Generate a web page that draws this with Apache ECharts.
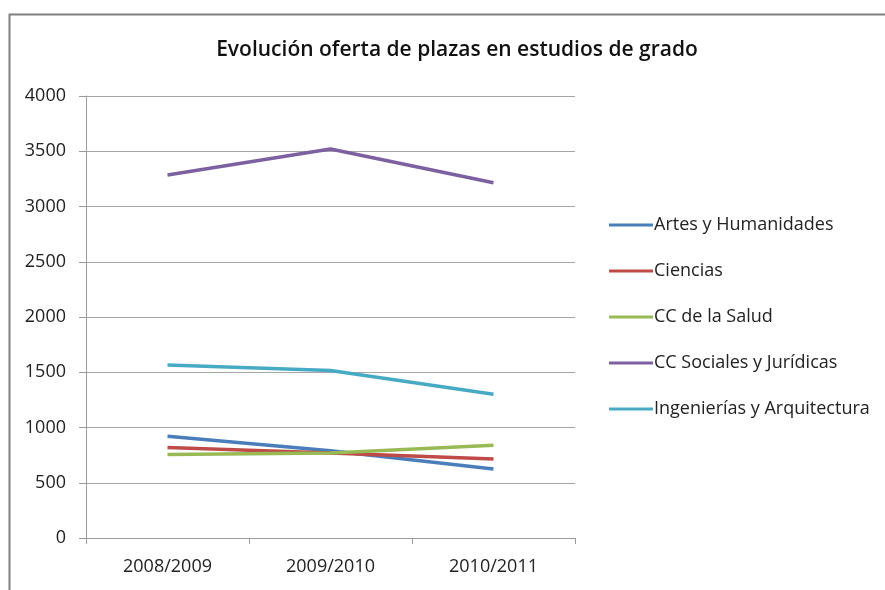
<!DOCTYPE html>
<html><head><meta charset="utf-8">
<script src="https://cdn.jsdelivr.net/npm/echarts@6/dist/echarts.min.js"></script>
<style>html,body{margin:0;padding:0;background:#fff}#c{width:885px;height:590px}</style>
</head><body><div id="c"></div>
<script>
const categories = ['2008/2009', '2009/2010', '2010/2011'];
const seriesNames = ['Artes y Humanidades', 'Ciencias', 'CC de la Salud', 'CC Sociales y Jurídicas', 'Ingenierías y Arquitectura'];
const artes = [920, 790, 625];
const ciencias = [820, 770, 715];
const salud = [755, 770, 840];
const sociales = [3285, 3520, 3215];
const ingenierias = [1565, 1515, 1300];
const colors = ['#4a7ebb', '#be4b48', '#98b954', '#7d60a0', '#46aac5'];
const values = [artes, ciencias, salud, sociales, ingenierias];

const font = "'Open Sans', 'Liberation Sans', sans-serif";
const chart = echarts.init(document.getElementById('c'));
chart.setOption({
  animation: false,
  backgroundColor: '#fff',
  graphic: [{
    type: 'rect', left: 7, top: 12,
    shape: { width: 900, height: 600 },
    style: { fill: 'none', stroke: '#7f7f7f', lineWidth: 2 }
  }],
  title: {
    text: 'Evolución oferta de plazas en estudios de grado',
    left: 452, top: 35, textAlign: 'center',
    textStyle: { fontFamily: font, fontSize: 21, fontWeight: 600, color: '#111' }
  },
  legend: {
    orient: 'vertical', left: 604, top: 211,
    itemWidth: 44, itemHeight: 3, itemGap: 28,
    icon: 'rect',
    data: seriesNames,
    textStyle: { fontFamily: font, fontSize: 18, color: '#222', padding: [0, 0, 0, -4] }
  },
  grid: { left: 86, right: 310, top: 96, bottom: 52 },
  xAxis: {
    type: 'category', data: categories, boundaryGap: true,
    axisLine: { lineStyle: { color: '#9a9a9a', width: 1 } },
    axisTick: { show: true, length: 6, lineStyle: { color: '#9a9a9a' } },
    axisLabel: { fontFamily: font, fontSize: 18, color: '#222', margin: 20 }
  },
  yAxis: {
    type: 'value', min: 0, max: 4000, interval: 500,
    axisLine: { show: true, lineStyle: { color: '#9a9a9a' } },
    axisTick: { show: true, length: 7, lineStyle: { color: '#9a9a9a' } },
    axisLabel: { fontFamily: font, fontSize: 18, color: '#222', margin: 20, formatter: v => String(v) },
    splitLine: { lineStyle: { color: '#a6a6a6', width: 1 } }
  },
  series: seriesNames.map((n, i) => ({
    name: n, type: 'line', data: values[i],
    symbol: 'none', smooth: false,
    lineStyle: { color: colors[i], width: 3.5 },
    itemStyle: { color: colors[i] }
  }))
});
</script></body></html>
